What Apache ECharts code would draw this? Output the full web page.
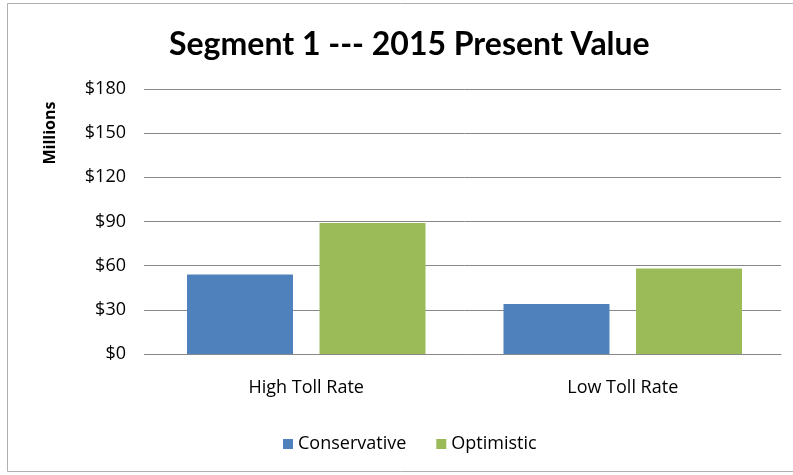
<!DOCTYPE html>
<html><head><meta charset="utf-8">
<script src="https://cdn.jsdelivr.net/npm/echarts@6/dist/echarts.min.js"></script>
<style>html,body{margin:0;padding:0;background:#fff}#c{width:793px;height:475px}</style>
</head><body><div id="c"></div>
<script>
const categories = ["High Toll Rate", "Low Toll Rate"];
const conservative = [54, 34];
const optimistic = [89, 58];
const yTicks = [0, 30, 60, 90, 120, 150, 180];

const chart = echarts.init(document.getElementById('c'), null, {renderer: 'canvas'});
const font = "'Open Sans', Lato, sans-serif";
chart.setOption({
  animation: false,
  backgroundColor: '#fff',
  title: {
    text: 'Segment 1 --- 2015 Present Value',
    left: 164, top: 24,
    textStyle: {fontFamily: "Lato, sans-serif", fontSize: 32, fontWeight: 'bold', color: '#000'}
  },
  graphic: [
    {type: 'rect', shape: {x: 7.5, y: 3.5, width: 800, height: 468}, style: {fill: 'none', stroke: '#b0b0b0', lineWidth: 1}, z: -1},
    {type: 'text', x: 50, y: 133, rotation: Math.PI / 2, style: {text: 'Millions', font: "bold 16px " + font, fill: '#000', align: 'center', verticalAlign: 'middle'}}
  ],
  legend: {
    bottom: 17, left: 278,
    itemWidth: 10, itemHeight: 10, itemGap: 30, itemTextGap: 9,
    icon: 'rect',
    textStyle: {fontFamily: font, fontSize: 18, color: '#000'},
    data: ['Conservative', 'Optimistic']
  },
  grid: {left: 148, right: 12, top: 89, bottom: 121},
  xAxis: {
    type: 'category', data: categories,
    axisLine: {lineStyle: {color: '#888'}},
    axisTick: {show: false},
    axisLabel: {fontFamily: font, fontSize: 18, color: '#000', margin: 25}
  },
  yAxis: {
    type: 'value', min: yTicks[0], max: yTicks[yTicks.length - 1], interval: 30,
    axisLine: {show: false},
    axisTick: {show: true, length: 4, lineStyle: {color: '#888'}},
    splitLine: {lineStyle: {color: '#888'}},
    axisLabel: {fontFamily: font, fontSize: 18, color: '#000', margin: 22, formatter: v => '$' + v}
  },
  series: [
    {name: 'Conservative', type: 'bar', data: conservative, barWidth: 106, barGap: '25%', itemStyle: {color: '#4F81BD'}},
    {name: 'Optimistic', type: 'bar', data: optimistic, barWidth: 106, itemStyle: {color: '#9BBB59'}}
  ]
});
</script></body></html>
